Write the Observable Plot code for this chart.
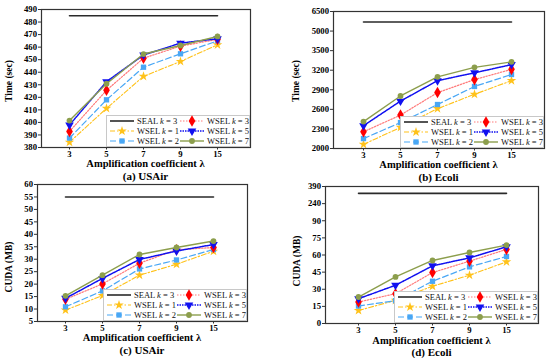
<!DOCTYPE html>
<html><head><meta charset="utf-8">
<script src="https://cdn.jsdelivr.net/npm/d3@7"></script>
<script src="https://cdn.jsdelivr.net/npm/@observablehq/plot@0.6"></script>
<style>
body{margin:0;background:#fff;}
#root{position:relative;width:550px;height:358px;overflow:hidden;font-family:"Liberation Serif","Times New Roman",serif;background:#fff;}
.panel{position:absolute;width:275px;height:179px;}
.t{position:absolute;transform:translate(-50%,-50%);white-space:nowrap;font-weight:bold;color:#000;line-height:1;}
.yl{position:absolute;transform:translate(-50%,-50%) rotate(-90deg);white-space:nowrap;font-weight:bold;color:#000;line-height:1;font-size:9.5px;}
</style></head><body><div id="root"></div><script>
// ---------- data ----------
const lambdas = ["3", "5", "7", "9", "15"];
const seriesNames = ["SEAL", "WSEL", "WSEL", "WSEL", "WSEL", "WSEL"];
const seriesK = [3, 1, 2, 3, 5, 7];

// (a) USAir, Time (sec)  [SEAL k=3, WSEL k=1, k=2, k=3, k=5, k=7]
const usairTime = [
  [485, 485, 485, 485, 485],
  [384.2, 411.2, 436.7, 448.6, 461.8],
  [387.5, 418, 444, 454.7, 465],
  [392.8, 425.6, 451.2, 460.8, 466.2],
  [398, 432.5, 453.7, 463.2, 466.7],
  [401.5, 430.8, 454.5, 461.3, 468.5]
];
// (b) Ecoli, Time (sec)
const ecoliTime = [
  [5700, 5700, 5700, 5700, 5700],
  [2063, 2324, 2611, 2831, 3040],
  [2152, 2397, 2674, 2951, 3134],
  [2256, 2512, 2857, 3056, 3213],
  [2350, 2726, 3040, 3160, 3286],
  [2413, 2805, 3098, 3244, 3328]
];
// (c) USAir, CUDA (MB)
const usairCuda = [
  [55, 55, 55, 55, 55],
  [9.6, 15.4, 23.6, 28, 33.2],
  [10.9, 17.3, 26.1, 29.7, 33.9],
  [13.9, 20.1, 28.4, 33.8, 34.7],
  [14.3, 22.3, 29.9, 33.3, 35.9],
  [15.3, 23.6, 31.9, 34.7, 37.3]
];
// (d) Ecoli, CUDA (MB)
const ecoliCuda = [
  [330, 330, 330, 330, 330],
  [11.4, 20.3, 32.6, 42.3, 54],
  [15.3, 20, 37, 49.6, 58.7],
  [18.8, 26.1, 44.6, 54.6, 64.9],
  [21.7, 33.5, 50.5, 57.5, 67.2],
  [23.2, 40.8, 55.2, 62.2, 68.7]
];

const usairTimeTicks = [380, 390, 400, 410, 420, 430, 440, 450, 460, 470, 480, 490];
const ecoliTimeTicks = [2000, 2300, 2600, 2900, 3200, 3500, 5000, 6500];
const usairCudaTicks = [5, 10, 15, 20, 25, 30, 35, 40, 45, 50, 55, 60];
const ecoliCudaTicks = [0, 15, 30, 45, 60, 75, 90, 240, 390];

// broken-axis transforms (equal spacing between the listed ticks)
function brokenAxis(ticks) {
  return (v) => {
    for (let i = 0; i < ticks.length - 1; i++) {
      if (v <= ticks[i + 1] || i === ticks.length - 2) {
        return i + (v - ticks[i]) / (ticks[i + 1] - ticks[i]);
      }
    }
  };
}

// ---------- styles ----------
const styles = [
  {stroke: "#2a2a2a", width: 1.6, dash: null, symbol: null},
  {stroke: "#FFC21A", width: 1.1, dash: "5,2,1.5,2", symbol: "star", fill: "#FFC21A", r: 3},
  {stroke: "#49A7F5", width: 1.2, dash: "6,3", symbol: "square", fill: "#49A7F5", r: 3},
  {stroke: "#FF7B7B", width: 1.2, dash: "1.5,1.5", symbol: "diamond", fill: "#FF0000", r: 3.5},
  {stroke: "#1010F0", width: 1.5, dash: "1.5,1", symbol: "triangle", fill: "#1010F0", r: 3.2, rotate: 180},
  {stroke: "#8C9E4C", width: 1.4, dash: null, symbol: "circle", fill: "#8C9E4C", r: 2.9}
];
const symMap = {star: d3.symbolStar, square: d3.symbolSquare, diamond: d3.symbolDiamond, triangle: d3.symbolTriangle, circle: d3.symbolCircle};

const root = document.getElementById("root");

function panel(cfg) {
  const div = document.createElement("div");
  div.className = "panel";
  div.style.left = cfg.left + "px";
  div.style.top = cfg.top + "px";
  root.appendChild(div);

  const marks = [];
  cfg.data.forEach((vals, si) => {
    const rows = lambdas.map((l, i) => ({lambda: l, value: vals[i]}));
    const s = styles[si];
    marks.push(Plot.line(rows, {x: "lambda", y: "value", stroke: s.stroke, strokeWidth: s.width, strokeDasharray: s.dash || undefined}));
    if (s.symbol) {
      marks.push(Plot.dot(rows, {x: "lambda", y: "value", symbol: s.symbol, fill: s.fill, stroke: "none", r: s.r, rotate: s.rotate || 0}));
    }
  });

  const height = cfg.B + 14;
  let yOpts, axisTicks, axisFormat;
  if (cfg.broken) {
    const f = brokenAxis(cfg.yTicks);
    yOpts = {transform: f, domain: [0, cfg.yTicks.length - 1]};
    axisTicks = cfg.yTicks.map((_, i) => i);
    axisFormat = (t) => String(cfg.yTicks[Math.round(t)]);
  } else {
    yOpts = {domain: cfg.yDomain};
    axisTicks = cfg.yTicks;
    axisFormat = d3.format("d");
  }
  const svg = Plot.plot({
    width: 275,
    height,
    marginLeft: cfg.L,
    marginRight: 275 - cfg.R,
    marginTop: cfg.T,
    marginBottom: height - cfg.B,
    style: {fontFamily: "'Liberation Serif', serif", fontSize: "8.7px", fontWeight: "bold", color: "#000", background: "transparent", overflow: "visible"},
    x: {type: "point", domain: lambdas, range: [cfg.x3, cfg.x15]},
    y: yOpts,
    marks: [
      ...marks,
      Plot.frame({stroke: "#333", strokeWidth: 1.2}),
      Plot.axisX({tickSize: 2.5, tickPadding: 0.5, label: null, stroke: "#333"}),
      Plot.axisY({ticks: axisTicks, tickSize: 3, tickPadding: 1.5, label: null, tickFormat: axisFormat, stroke: "#333"})
    ]
  });
  svg.style.position = "absolute";
  svg.style.left = "0px";
  svg.style.top = "0px";
  div.appendChild(svg);

  // legend
  const W = 144, H = 32;
  const lg = d3.create("svg").attr("width", W).attr("height", H)
    .style("position", "absolute").style("left", (cfg.R - W) + "px").style("top", (cfg.B - H) + "px")
    .style("font-family", "'Liberation Serif', serif").style("font-size", "8.5px");
  lg.append("rect").attr("x", 0.5).attr("y", 0.5).attr("width", W - 1).attr("height", H - 1).attr("fill", "#fff").attr("stroke", "#c8c8c8");
  styles.forEach((s, i) => {
    const col = i < 3 ? 0 : 1, row = i % 3;
    const x0 = col === 0 ? 4 : 74, x1 = x0 + 24, yy = 6 + row * 10;
    lg.append("line").attr("x1", x0).attr("x2", x1).attr("y1", yy).attr("y2", yy)
      .attr("stroke", s.stroke).attr("stroke-width", s.width).attr("stroke-dasharray", s.dash);
    if (s.symbol) {
      lg.append("path").attr("d", d3.symbol(symMap[s.symbol], s.r * s.r * Math.PI)())
        .attr("fill", s.fill)
        .attr("transform", `translate(${(x0 + x1) / 2},${yy}) rotate(${s.rotate || 0})`);
    }
    const t = lg.append("text").attr("x", x1 + 3).attr("y", yy).attr("dy", "0.33em").attr("fill", "#111");
    t.append("tspan").text(seriesNames[i] + " ");
    t.append("tspan").attr("font-style", "italic").text("k");
    t.append("tspan").text(" = " + seriesK[i]);
  });
  div.appendChild(lg.node());

  // titles
  const mk = (cls, text, x, y, size) => {
    const e = document.createElement("div");
    e.className = cls;
    e.textContent = text;
    e.style.left = x + "px";
    e.style.top = y + "px";
    if (size) e.style.fontSize = size + "px";
    div.appendChild(e);
  };
  mk("t", "Amplification coefficient λ", (cfg.L + cfg.R) / 2, cfg.xlabelY, 10.5);
  mk("t", cfg.caption, (cfg.L + cfg.R) / 2, cfg.captionY, 11);
  mk("yl", cfg.ylabel, cfg.ylabelX, cfg.ylabelY);
}

panel({left: 0, top: 0, L: 41, R: 250, T: 9, B: 147, x3: 49, x15: 237,
  yDomain: [380, 490], yTicks: usairTimeTicks, data: usairTime,
  ylabel: "Time (sec)", ylabelX: 10, ylabelY: 81, caption: "(a) USAir", xlabelY: 164, captionY: 175.5});
panel({left: 275, top: 0, L: 58, R: 269, T: 11, B: 148, x3: 68, x15: 255,
  broken: true, yTicks: ecoliTimeTicks, data: ecoliTime,
  ylabel: "Time (sec)", ylabelX: 22, ylabelY: 81, caption: "(b) Ecoli", xlabelY: 165, captionY: 176.5});
panel({left: 0, top: 178, L: 37, R: 247, T: 6, B: 143, x3: 45, x15: 232,
  yDomain: [5, 60], yTicks: usairCudaTicks, data: usairCuda,
  ylabel: "CUDA (MB)", ylabelX: 10, ylabelY: 89, caption: "(c) USAir", xlabelY: 160, captionY: 171.5});
panel({left: 275, top: 178, L: 50, R: 263, T: 8, B: 145, x3: 63, x15: 251,
  broken: true, yTicks: ecoliCudaTicks, data: ecoliCuda,
  ylabel: "CUDA (MB)", ylabelX: 23, ylabelY: 83, caption: "(d) Ecoli", xlabelY: 162.5, captionY: 173.5});
</script></body></html>
